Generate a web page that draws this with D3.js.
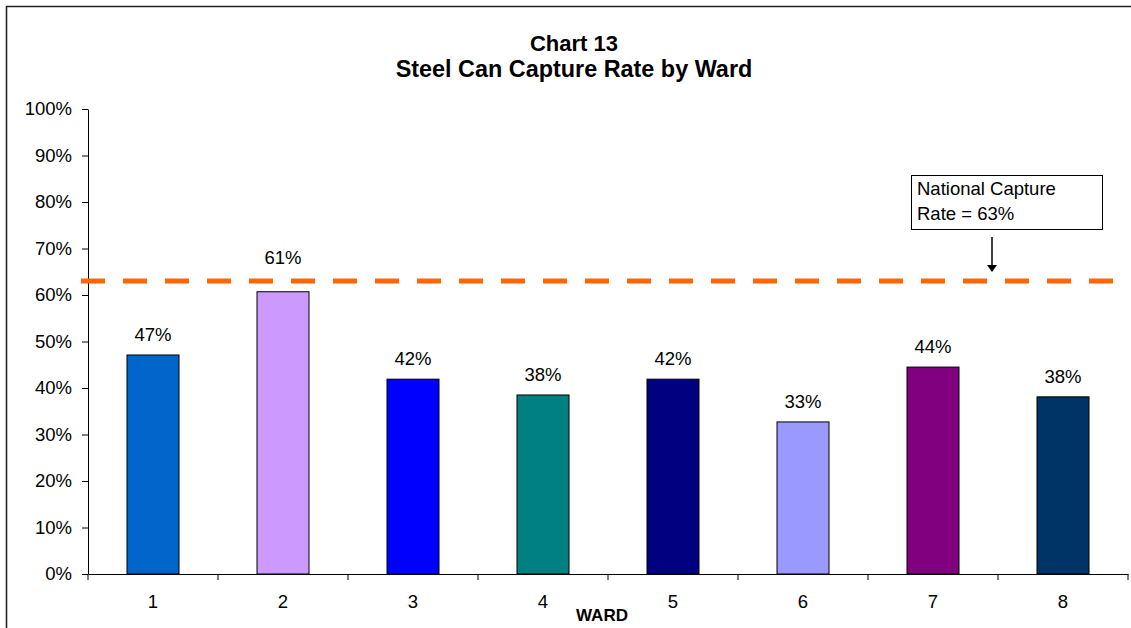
<!DOCTYPE html>
<html>
<head>
<meta charset="utf-8">
<script src="https://cdn.jsdelivr.net/npm/d3@7"></script>
<style>
html,body{margin:0;padding:0;background:#fff;overflow:hidden;}
svg{display:block;font-family:Arial,"Liberation Sans",sans-serif;}
</style>
</head>
<body>
<svg id="chart" width="1131" height="628"></svg>
<script>
const categories = ["1","2","3","4","5","6","7","8"];
const values = [0.471, 0.607, 0.419, 0.385, 0.419, 0.327, 0.445, 0.381];
const labels = ["47%","61%","42%","38%","42%","33%","44%","38%"];
const colors = ["#0066CC","#CC99FF","#0000FF","#008080","#000080","#9999FF","#800080","#003366"];
const yTicks = [0,0.1,0.2,0.3,0.4,0.5,0.6,0.7,0.8,0.9,1.0];
const nationalRate = 0.63;
const titleLines = ["Chart 13","Steel Can Capture Rate by Ward"];
const xTitle = "WARD";
const noteLines = ["National Capture","Rate = 63%"];

const FONT = "Arial,'Liberation Sans',sans-serif";
const svg = d3.select("#chart");
const pL = 88, pR = 1128, pT = 109, pB = 574;

// outer chart border: only top and left edges are inside the view
svg.append("path").attr("d","M6.5,628 L6.5,6.5 L1131,6.5")
  .attr("fill","none").attr("stroke","#222").attr("stroke-width",1.6);

const x = d3.scaleBand().domain(categories).range([pL,pR]).paddingInner(0.6).paddingOuter(0.3);
const xOuter = d3.scaleBand().domain(categories).range([pL,pR]);
const y = d3.scaleLinear().domain([0,1]).range([pB,pT]);

// title
svg.append("g").selectAll("text").data(titleLines).join("text")
  .attr("x",574).attr("y",(d,i)=>51+i*26).attr("text-anchor","middle")
  .attr("font-weight","bold").attr("font-size",(d,i)=>i===0?22:23.4).attr("fill","#000").text(d=>d);

// bars
svg.append("g").selectAll("rect").data(values).join("rect")
  .attr("x",(d,i)=>x(categories[i])).attr("width",x.bandwidth())
  .attr("y",d=>y(d)).attr("height",d=>pB-y(d))
  .attr("fill",(d,i)=>colors[i]).attr("stroke","#000").attr("stroke-width",1);

// value labels (a label that would sit on the national line is lifted above it)
const lineY = y(nationalRate);
svg.append("g").selectAll("text").data(values).join("text")
  .attr("x",(d,i)=>x(categories[i])+x.bandwidth()/2)
  .attr("y",d=>{ const ly = y(d)-14; return (ly > lineY-12 && ly < lineY+20) ? lineY-17 : ly; })
  .attr("text-anchor","middle").attr("font-size",18.5).attr("fill","#000")
  .text((d,i)=>labels[i]);

// y axis
const yAxis = d3.axisLeft(y).tickValues(yTicks).tickFormat(d3.format(".0%")).tickSize(6).tickSizeOuter(0);
const gy = svg.append("g").attr("transform",`translate(${pL},0)`).call(yAxis);
gy.selectAll("text").attr("font-size",18.5).attr("fill","#000").attr("x",-16).attr("font-family",FONT);
gy.selectAll("line").attr("stroke","#000");
gy.select(".domain").attr("stroke","#000");

// x axis
const xAxis = d3.axisBottom(xOuter).tickSize(0).tickSizeOuter(0);
const gx = svg.append("g").attr("transform",`translate(0,${pB})`).call(xAxis);
gx.selectAll("text").attr("font-size",18.5).attr("fill","#000").attr("dy",0).attr("y",34).attr("font-family",FONT);
gx.select(".domain").attr("stroke","#000");
// category boundary ticks
const bounds = categories.map(c=>xOuter(c)).concat([pR]);
svg.append("g").selectAll("line").data(bounds).join("line")
  .attr("x1",d=>d).attr("x2",d=>d).attr("y1",pB).attr("y2",pB+6).attr("stroke","#000");

svg.append("text").attr("x",602).attr("y",621).attr("text-anchor","middle")
  .attr("font-weight","bold").attr("font-size",17).attr("fill","#000").text(xTitle);

// national rate dashed line
svg.append("line").attr("x1",81).attr("x2",pR).attr("y1",lineY).attr("y2",lineY)
  .attr("stroke","#FF6600").attr("stroke-width",5).attr("stroke-dasharray","24,18");

// annotation box
svg.append("rect").attr("x",911.5).attr("y",175.5).attr("width",191).attr("height",54)
  .attr("fill","#fff").attr("stroke","#000").attr("stroke-width",1);
svg.append("g").selectAll("text").data(noteLines).join("text")
  .attr("x",917).attr("y",(d,i)=>195+i*25).attr("font-size",18.5).attr("fill","#000").text(d=>d);
// arrow
svg.append("line").attr("x1",992).attr("x2",992).attr("y1",237).attr("y2",266).attr("stroke","#000").attr("stroke-width",1.5);
svg.append("path").attr("d","M987,265 L997,265 L992,272 Z").attr("fill","#000");
</script>
</body>
</html>
